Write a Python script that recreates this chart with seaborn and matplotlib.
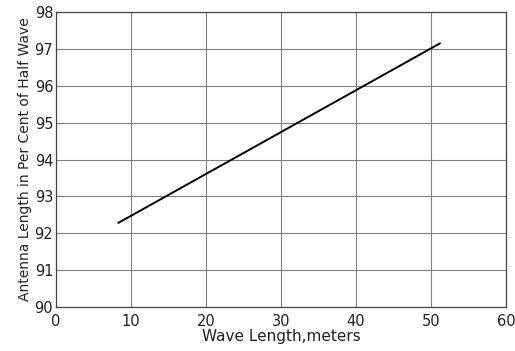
import matplotlib
matplotlib.use("Agg")
import matplotlib.pyplot as plt
import seaborn as sns
import pandas as pd

wave_length = [8.3, 51.2]
antenna_pct = [92.28, 97.15]
x_ticks = [0, 10, 20, 30, 40, 50, 60]
y_ticks = [90, 91, 92, 93, 94, 95, 96, 97, 98]

sns.set_theme(style="white")
plt.rcParams['font.family'] = ['DejaVu Sans']

df = pd.DataFrame({"x": wave_length, "y": antenna_pct})

fig = plt.figure(figsize=(5.15, 3.51), dpi=100)
ax = fig.add_axes([56/515, 1 - 307/351, 450/515, 295/351])
sns.lineplot(data=df, x="x", y="y", ax=ax, color="black", linewidth=1.4)

ax.set_xlim(0, 60)
ax.set_ylim(90, 98)
ax.set_xticks(x_ticks)
ax.set_yticks(y_ticks)
ax.grid(True, color="#808080", linewidth=0.8)
for s in ax.spines.values():
    s.set_color("#444444")
    s.set_linewidth(0.9)
ax.tick_params(axis="both", length=0, labelsize=10.5, colors="#222222")
ax.tick_params(axis="y", pad=2)
ax.tick_params(axis="x", pad=5)
ax.set_xlabel("Wave Length,meters", fontsize=11, color="#222222", labelpad=0)
ax.set_ylabel("Antenna Length in Per Cent of Half Wave", fontsize=10, color="#222222", labelpad=2)

fig.savefig("out.png", dpi=100)
